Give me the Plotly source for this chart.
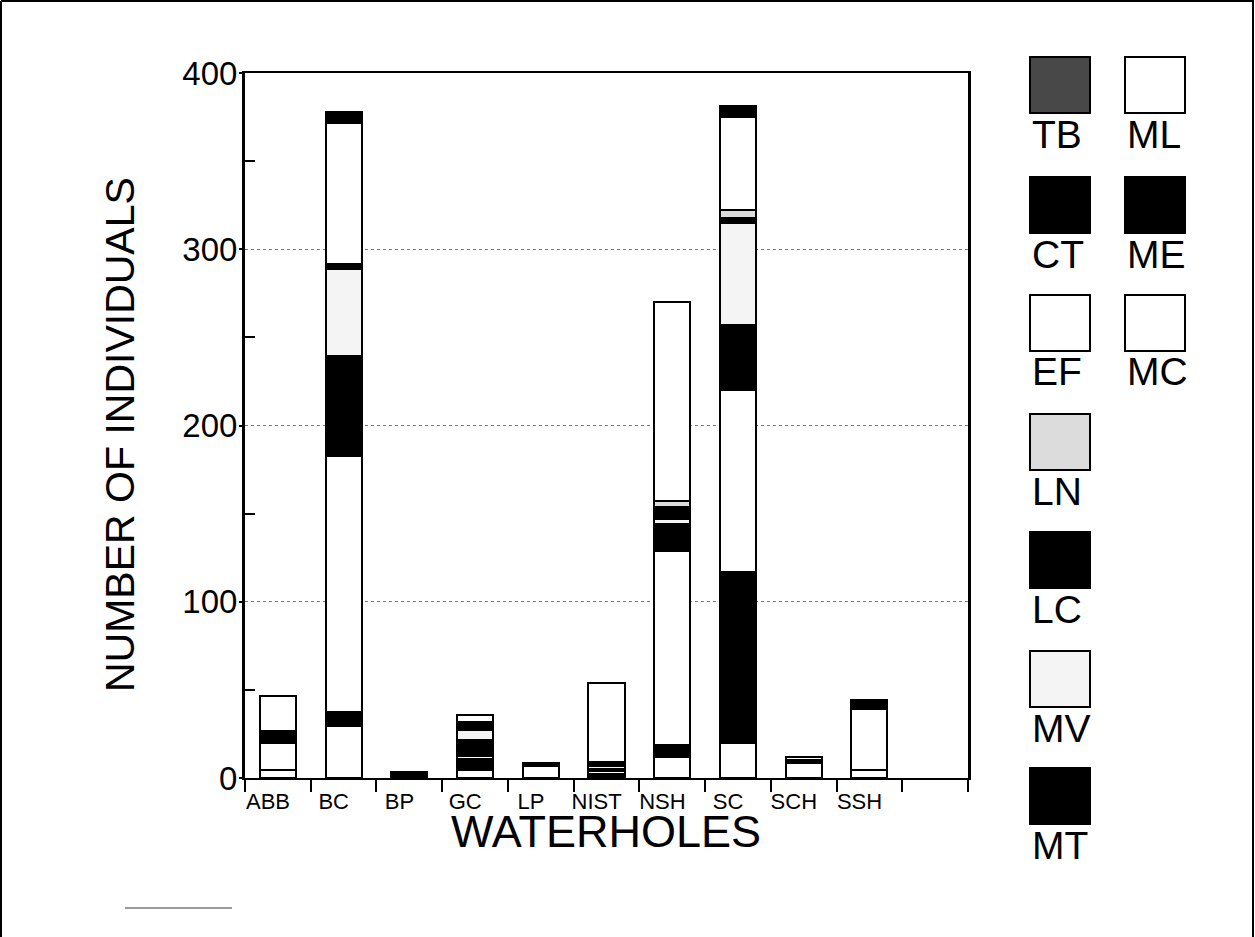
import plotly.graph_objects as go

categories = ["ABB", "BC", "BP", "GC", "LP", "NIST", "NSH", "SC", "SCH", "SSH"]

# species counts per waterhole (stacked bottom -> top in this order)
MC = [4.5, 29.5, 0, 4.5, 0, 0, 12, 20, 0, 4.5]
ME = [0, 8, 0, 6, 0, 2, 7, 97, 0, 0]
ML = [15.5, 145, 0, 2, 7, 2, 110, 103, 8.5, 34.5]
MT = [6.5, 57, 3.5, 9, 1.5, 1, 15, 37, 1.7, 0]
MV = [0, 49.5, 0, 6, 0, 2, 3, 58, 0, 0]
LC = [0, 2.6, 0, 4, 0, 1.5, 7, 3, 0, 0]
LN = [0, 0, 0, 0, 0, 0.5, 3, 4, 0, 0]
EF = [20, 80, 0, 4, 0, 45, 113, 53, 1.8, 0]
CT = [0, 6, 0, 0, 0, 0, 0, 6, 0, 5.3]
TB = [0, 0, 0, 0, 0, 0, 0, 0, 0, 0]

series_order = ["MC", "ME", "ML", "MT", "MV", "LC", "LN", "EF", "CT", "TB"]
series_values = {"MC": MC, "ME": ME, "ML": ML, "MT": MT, "MV": MV,
                 "LC": LC, "LN": LN, "EF": EF, "CT": CT, "TB": TB}
colors = {"TB": "#484848", "CT": "#000000", "EF": "#ffffff", "LN": "#dcdcdc",
          "LC": "#000000", "MV": "#f4f4f4", "MT": "#000000", "ML": "#ffffff",
          "ME": "#000000", "MC": "#ffffff"}
legend_col1 = ["TB", "CT", "EF", "LN", "LC", "MV", "MT"]
legend_col2 = ["ML", "ME", "MC"]

y_ticks = [0, 100, 200, 300, 400]

FONT = "Liberation Sans, Arial, sans-serif"

# plot area in pixels
L, R, T, B = 245, 968, 73, 778
W, H = 1255, 937
PW, PH = R - L, B - T


def px(x):
    return (x - L) / PW


def py(y):
    return (B - y) / PH


fig = go.Figure()
xs = list(range(len(categories)))
for name in series_order:
    vals = [v if v else None for v in series_values[name]]
    fig.add_trace(go.Bar(
        x=xs, y=vals, name=name, width=0.55,
        marker=dict(color=colors[name], line=dict(color="black", width=2)),
        showlegend=False,
    ))

fig.update_layout(
    barmode="stack",
    width=W, height=H,
    margin=dict(l=L, r=W - R, t=T, b=H - B, pad=0),
    plot_bgcolor="white", paper_bgcolor="white",
    font=dict(family=FONT, color="black"),
    bargap=0,
)

fig.update_xaxes(
    range=[-0.5, 10.5],
    tickmode="array", tickvals=[i - 0.15 for i in xs], ticktext=categories,
    ticks="", tickfont=dict(size=22, family=FONT),
    ticklabelstandoff=3,
    showline=True, linecolor="black", linewidth=2, mirror=True,
    showgrid=False, zeroline=False,
    minor=dict(tickmode="array", tickvals=[i - 0.5 for i in range(12)],
               ticks="outside", ticklen=12, tickwidth=1.5, tickcolor="black"),
)
fig.update_yaxes(
    range=[0, 400],
    tickmode="array", tickvals=y_ticks, ticktext=[str(v) for v in y_ticks],
    ticks="outside", ticklen=3, tickwidth=1.5, tickcolor="black",
    tickfont=dict(size=33, family=FONT),
    ticklabelstandoff=-5,
    showline=True, linecolor="black", linewidth=3, mirror=True,
    showgrid=True, gridcolor="#7a7a7a", gridwidth=1, griddash="dot",
    zeroline=False,
    minor=dict(tickmode="array", tickvals=[50, 150, 250, 350],
               ticks="inside", ticklen=10, tickwidth=1.5, tickcolor="black"),
)

shapes = []
annotations = []

# axis titles
annotations.append(dict(text="WATERHOLES", xref="paper", yref="paper",
                        x=px(606), y=py(831), xanchor="center", yanchor="middle",
                        showarrow=False, font=dict(size=45, family=FONT)))
annotations.append(dict(text="NUMBER OF INDIVIDUALS", xref="paper", yref="paper",
                        x=px(120), y=py(435), xanchor="center", yanchor="middle",
                        showarrow=False, textangle=-90,
                        font=dict(size=41, family=FONT)))

# custom legend: swatch with label underneath
row_tops = [57, 177, 295, 414, 532, 651, 768]
for col_x, names in ((1030, legend_col1), (1125, legend_col2)):
    for i, name in enumerate(names):
        top = row_tops[i]
        shapes.append(dict(type="rect", xref="paper", yref="paper",
                           x0=px(col_x), x1=px(col_x + 60),
                           y0=py(top + 56), y1=py(top),
                           fillcolor=colors[name],
                           line=dict(color="black", width=2)))
        annotations.append(dict(text=name, xref="paper", yref="paper",
                                x=px(col_x), y=py(top + 77),
                                xanchor="left", yanchor="middle",
                                showarrow=False,
                                font=dict(size=39, family=FONT)))

# outer frame of the figure
for (x0, y0, x1, y1) in ((1, 1, 1, 937), (1, 1, 1254, 1), (1253, 1, 1253, 937)):
    shapes.append(dict(type="line", xref="paper", yref="paper",
                       x0=px(x0), x1=px(x1), y0=py(y0), y1=py(y1),
                       line=dict(color="black", width=2)))
shapes.append(dict(type="line", xref="paper", yref="paper",
                   x0=px(125), x1=px(232), y0=py(908), y1=py(908),
                   line=dict(color="#9a9a9a", width=2)))

fig.update_layout(shapes=shapes, annotations=annotations)

fig.write_html("out.html")
